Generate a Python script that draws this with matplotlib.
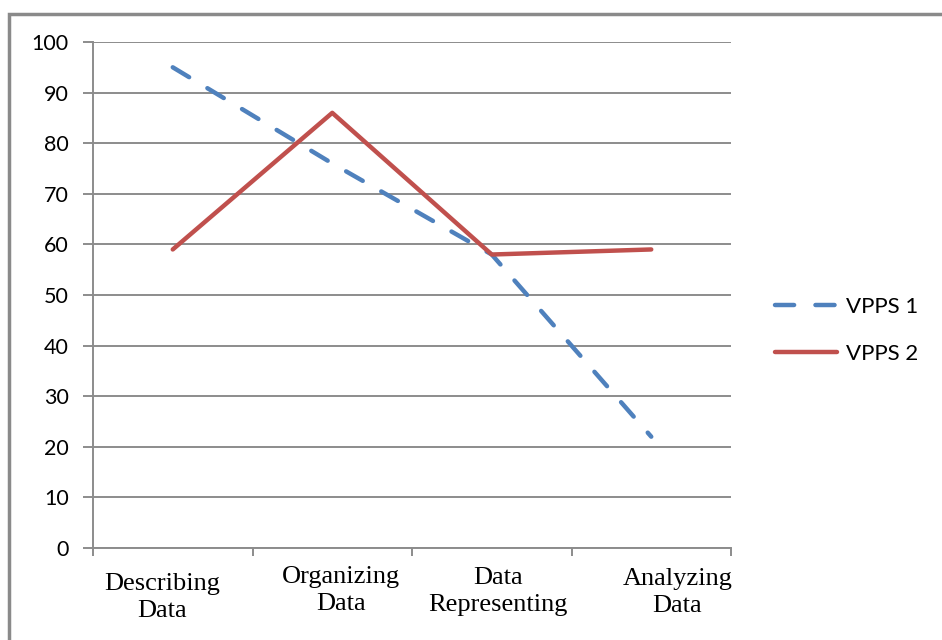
import matplotlib.pyplot as plt
from matplotlib.patches import Rectangle
from matplotlib.transforms import ScaledTranslation

categories = ["Describing\nData", "Organizing\nData", "Data\nRepresenting", "Analyzing\nData"]
vpps1 = [95, 76, 58, 22]
vpps2 = [59, 86, 58, 59]
yticks = list(range(0, 101, 10))

blue = "#4F81BD"
red = "#C0504D"
grid_col = "#8C8C8C"

fig = plt.figure(figsize=(9.42, 6.4), dpi=100)
ax = fig.add_axes([93 / 942, 1 - 548 / 640, (731 - 93) / 942, (548 - 42) / 640])

x = range(len(categories))
ax.plot(x, vpps1, color=blue, lw=3.2, ls=(0, (4.3, 4.8)), dash_capstyle="round", label="VPPS 1")
ax.plot(x, vpps2, color=red, lw=3.2, solid_capstyle="round", label="VPPS 2")

ax.set_xlim(-0.5, len(categories) - 0.5)
ax.set_ylim(0, 100)
ax.set_yticks(yticks)
ax.set_yticklabels([str(v) for v in yticks], fontfamily="Lato", fontsize=15.5)
ax.yaxis.grid(True, color=grid_col, lw=1.4)
ax.set_axisbelow(True)

for s in ["top", "right"]:
    ax.spines[s].set_visible(False)
for s in ["left", "bottom"]:
    ax.spines[s].set_color(grid_col)
    ax.spines[s].set_linewidth(1.4)

ax.tick_params(axis="y", length=7, color=grid_col, width=1.4, pad=10.5)
ax.set_xticks(list(x))
ax.set_xticklabels(categories, fontfamily="Liberation Serif", fontsize=19, linespacing=1.3)
ax.tick_params(axis="x", which="major", length=0, pad=15)
ax.set_xticks([i - 0.5 for i in range(len(categories) + 1)], minor=True)
ax.tick_params(axis="x", which="minor", length=6, color=grid_col, width=1.4)

# staggered label offsets as in the original
offsets = [(-11, -4), (9, 3), (6, 2), (26, 1)]
for lab, (dx, dy) in zip(ax.get_xticklabels(), offsets):
    lab.set_transform(lab.get_transform() + ScaledTranslation(dx / 100, dy / 100, fig.dpi_scale_trans))

leg = ax.legend(loc="center left", bbox_to_anchor=(1.037, 0.43), frameon=False,
                prop={"family": "Lato", "size": 16}, handlelength=2.8, labelspacing=1.2,
                handletextpad=0.4)

# outer gray frame
fig.patches.append(Rectangle((8.5 / 942, -0.1), 1.2, 1 - 13.5 / 640 + 0.1,
                             transform=fig.transFigure, fill=False,
                             edgecolor="#8A8A8A", lw=2.5, clip_on=False))

fig.savefig("out.png", dpi=100)
